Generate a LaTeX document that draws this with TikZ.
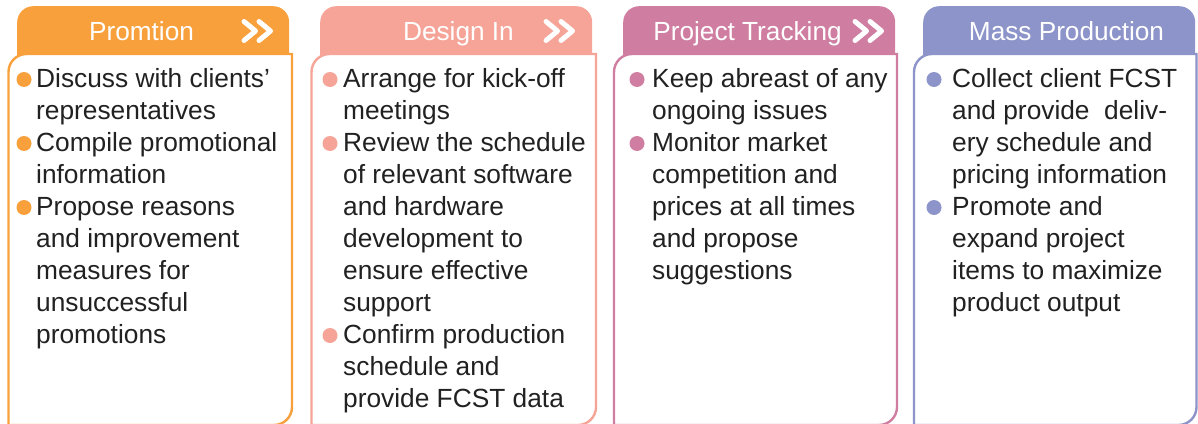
\documentclass[tikz,border=0pt]{standalone}
\usepackage{fontspec}
\setmainfont{Liberation Sans}
\usetikzlibrary{positioning}

\definecolor{promocol}{HTML}{F8A03C}
\definecolor{designcol}{HTML}{F5A497}
\definecolor{trackcol}{HTML}{CF7EA1}
\definecolor{masscol}{HTML}{8C94C9}

\tikzset{
  headtab/.style={fill=#1, rounded corners=16pt, minimum width=272pt, minimum height=80pt, anchor=north west, inner sep=0pt},
  panelbox/.style={fill=white, draw=#1, line width=2.4pt},
  headtitle/.style={text=white, font=\fontsize{26.2}{30}\selectfont, anchor=base, inner sep=0pt},
  chevron/.style={draw=white, line width=5pt, line cap=round, line join=round},
  itemtext/.style={text=black!87, font=\fontsize{26.3}{32}\selectfont, align=left, anchor=base west, inner sep=0pt},
  itembullet/.style={circle, fill=#1, minimum size=15pt, inner sep=0pt},
}

\begin{document}
\begin{tikzpicture}[x=1pt, y=-1pt]
\useasboundingbox (0,0) rectangle (1198,423);

\node[headtab=promocol] (promtion) at (17,6) {};
\node[headtab=designcol] (designin) at (320,6) {};
\node[headtab=trackcol] (tracking) at (623,6) {};
\node[headtab=masscol] (massprod) at (923,6) {};

\node[headtitle] (promtion-title) at (141.5,40) {Promtion};
\node[headtitle] (designin-title) at (458.5,40) {Design In};
\node[headtitle] (tracking-title) at (747.5,40) {Project Tracking};
\node[headtitle] (massprod-title) at (1066.5,40) {Mass Production};

\draw[chevron] (244,21.5) -- (255.5,31) -- (244,40.5) (259,21.5) -- (270.5,31) -- (259,40.5);
\draw[chevron] (546,21.5) -- (557.5,31) -- (546,40.5) (561,21.5) -- (572.5,31) -- (561,40.5);
\draw[chevron] (855,21.5) -- (866.5,31) -- (855,40.5) (870,21.5) -- (881.5,31) -- (870,40.5);

\filldraw[panelbox=promocol] (8.5,425) -- (8.5,72) arc[start angle=180, end angle=270, radius=18] -- (292,54) -- (292,407) arc[start angle=0, end angle=90, radius=18] -- cycle;
\filldraw[panelbox=designcol] (311.5,425) -- (311.5,72) arc[start angle=180, end angle=270, radius=18] -- (596,54) -- (596,407) arc[start angle=0, end angle=90, radius=18] -- cycle;
\filldraw[panelbox=trackcol] (614,425) -- (614,72) arc[start angle=180, end angle=270, radius=18] -- (897,54) -- (897,407) arc[start angle=0, end angle=90, radius=18] -- cycle;
\filldraw[panelbox=masscol] (914,425) -- (914,72) arc[start angle=180, end angle=270, radius=18] -- (1196.5,54) -- (1196.5,407) arc[start angle=0, end angle=90, radius=18] -- cycle;

% item nodes sit on the baseline of their last line
\node[itemtext] (promtion-1) at (36,119) {Discuss with clients’\\representatives};
\node[itemtext] (promtion-2) at (36,183) {Compile promotional\\information};
\node[itemtext] (promtion-3) at (36,343) {Propose reasons\\and improvement\\measures for\\unsuccessful\\promotions};
\node[itembullet=promocol] (promtion-1b) at (24,79.5) {};
\node[itembullet=promocol] (promtion-2b) at (24,143.5) {};
\node[itembullet=promocol] (promtion-3b) at (24,207.5) {};

\node[itemtext] (designin-1) at (343,119) {Arrange for kick-off\\meetings};
\node[itemtext] (designin-2) at (343,311) {Review the schedule\\of relevant software\\and hardware\\development to\\ensure effective\\support};
\node[itemtext] (designin-3) at (343,407) {Confirm production\\schedule and\\provide FCST data};
\node[itembullet=designcol] (designin-1b) at (330,79.5) {};
\node[itembullet=designcol] (designin-2b) at (330,143.5) {};
\node[itembullet=designcol] (designin-3b) at (330,335.5) {};

\node[itemtext] (tracking-1) at (652,119) {Keep abreast of any\\ongoing issues};
\node[itemtext] (tracking-2) at (652,279) {Monitor market\\competition and\\prices at all times\\and propose\\suggestions};
\node[itembullet=trackcol] (tracking-1b) at (637,79.5) {};
\node[itembullet=trackcol] (tracking-2b) at (637,143.5) {};

\node[itemtext] (massprod-1) at (952,183) {Collect client FCST\\and provide\ \ deliv-\\ery schedule and\\pricing information};
\node[itemtext] (massprod-2) at (952,311) {Promote and\\expand project\\items to maximize\\product output};
\node[itembullet=masscol] (massprod-1b) at (934,79.5) {};
\node[itembullet=masscol] (massprod-2b) at (934,207.5) {};
\end{tikzpicture}
\end{document}
